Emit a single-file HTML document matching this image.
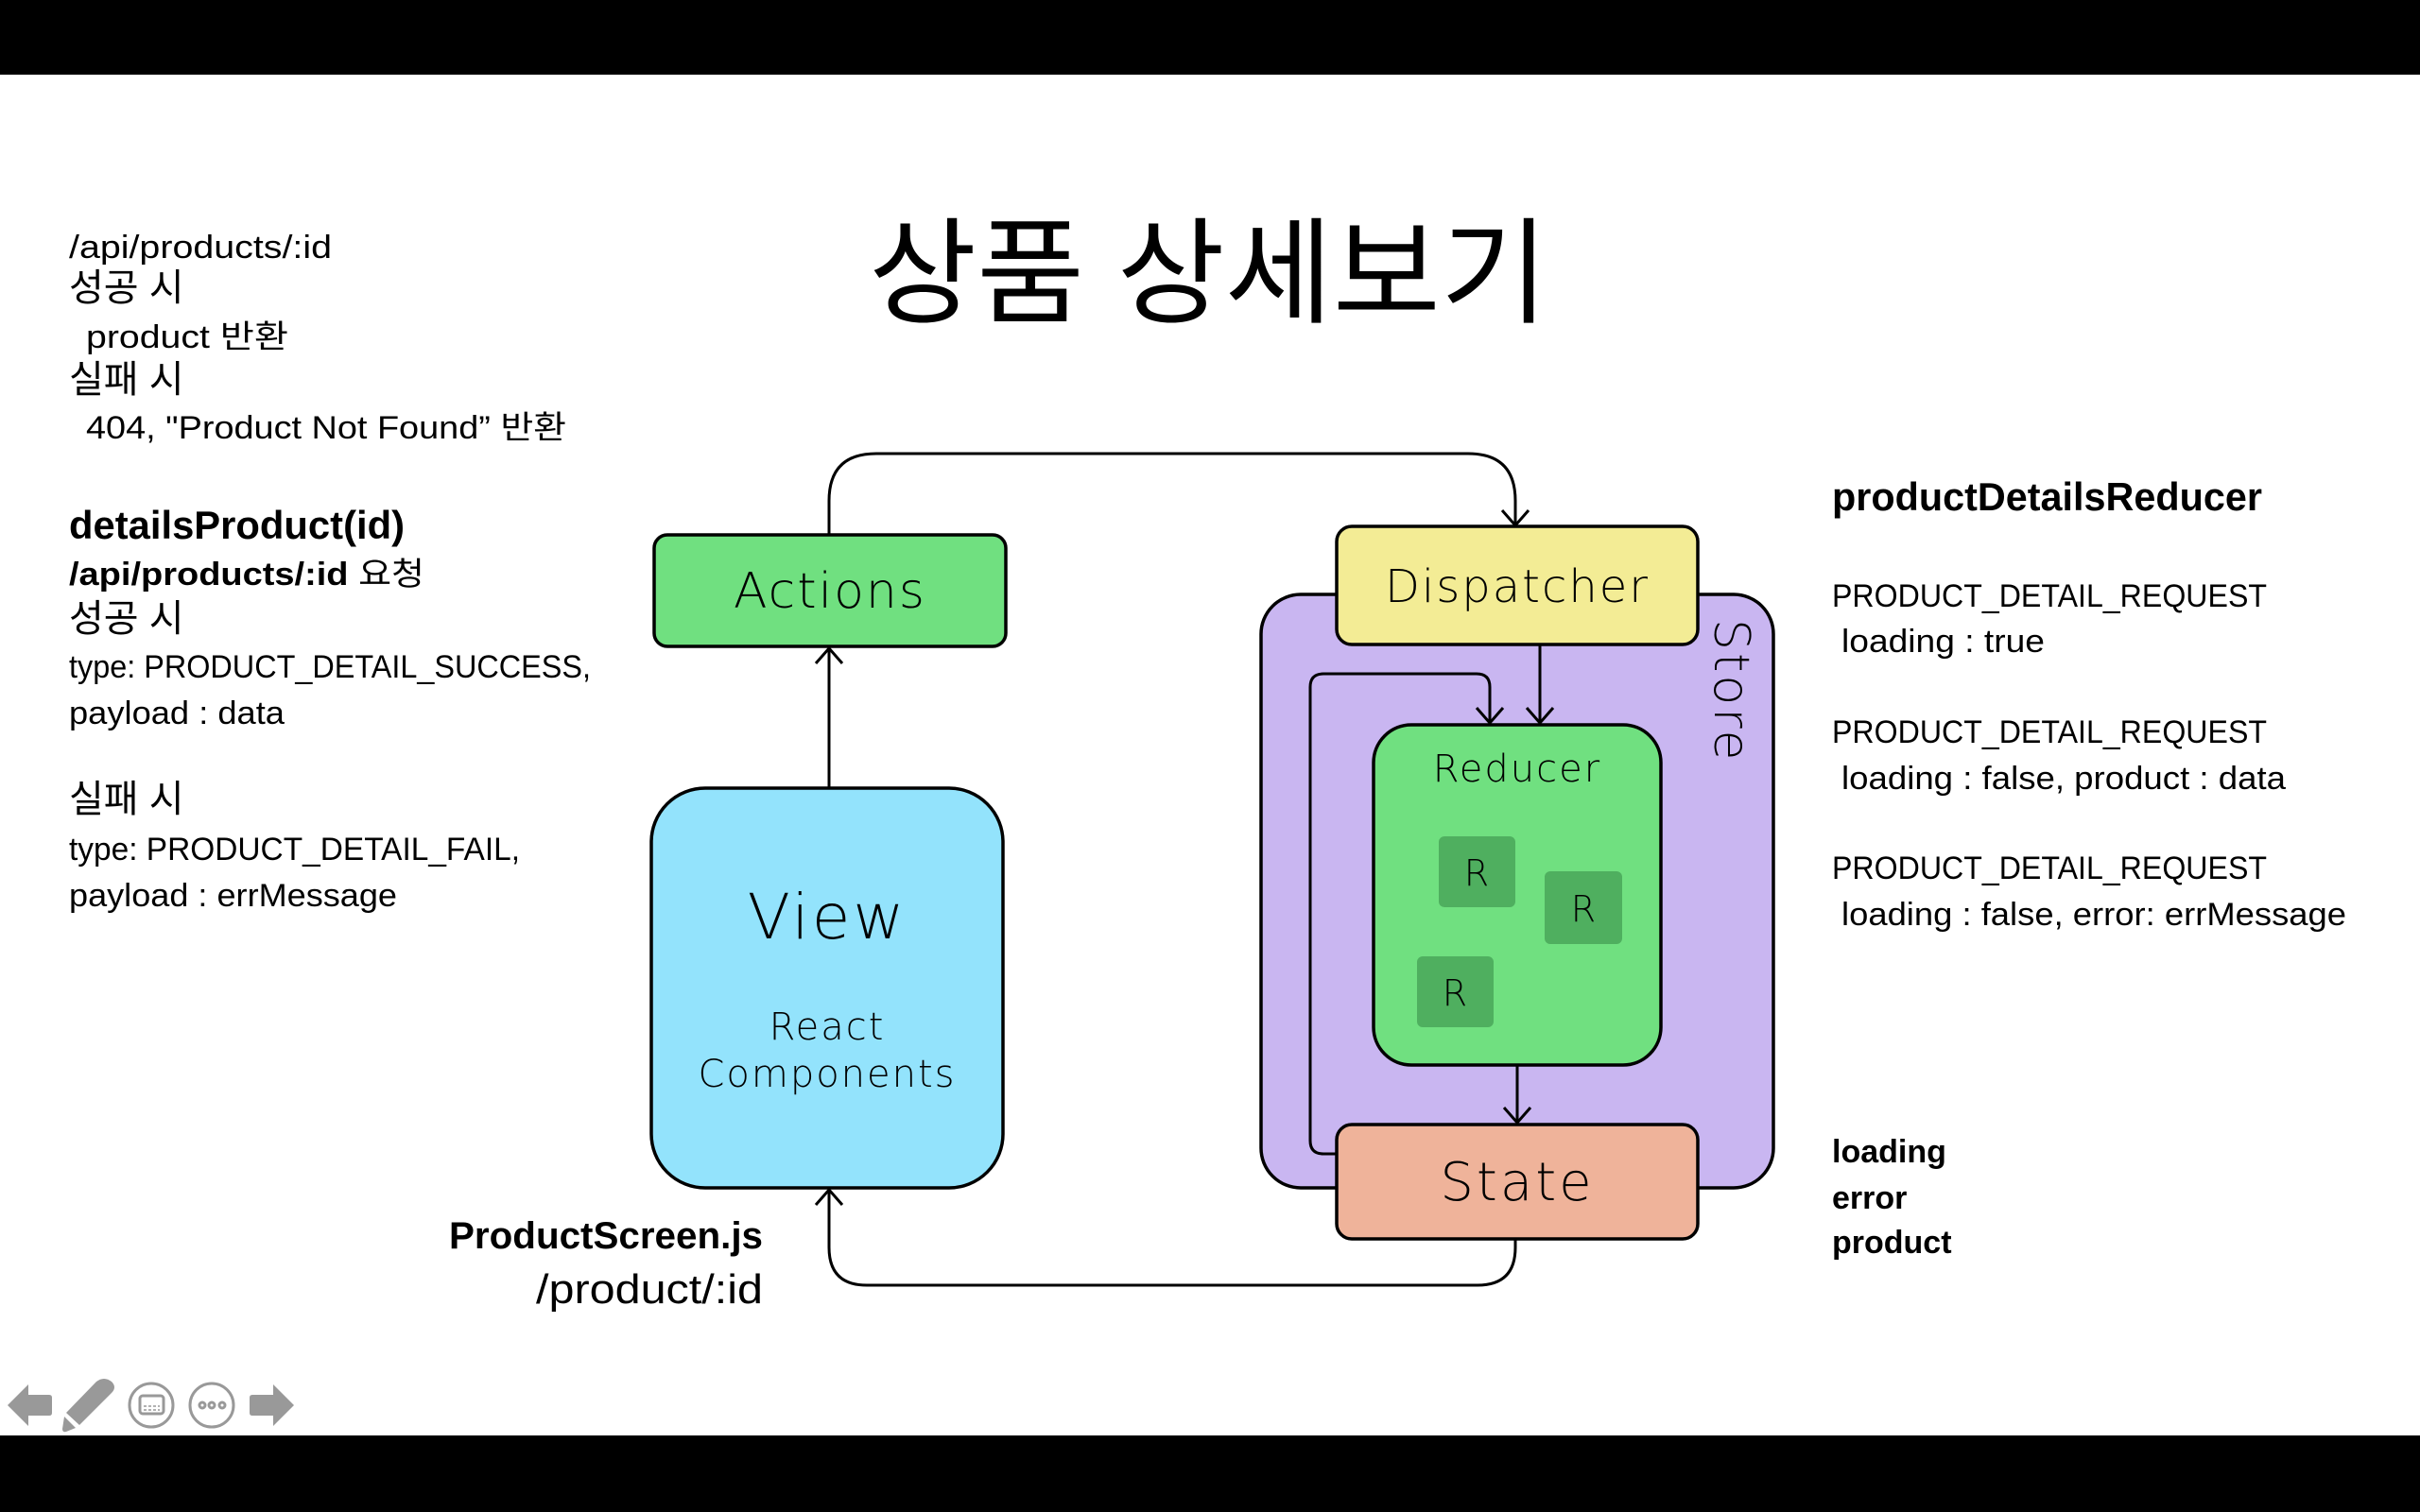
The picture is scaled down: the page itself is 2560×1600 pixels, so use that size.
<!DOCTYPE html>
<html><head><meta charset="utf-8"><style>
html,body{margin:0;padding:0;background:#fff;}
svg{display:block;}
.k{font-family:"Liberation Sans","Noto Sans CJK KR",sans-serif;fill:#000;}
.g{font-family:"DejaVu Sans","Liberation Sans",sans-serif;font-weight:200;fill:#000;}
</style></head><body>
<svg width="2560" height="1600" viewBox="0 0 2560 1600" xmlns="http://www.w3.org/2000/svg">
<rect x="0" y="0" width="2560" height="79" fill="#000"/>
<rect x="0" y="1519" width="2560" height="81" fill="#000"/>

<text class="k" x="919" y="332" font-size="122" textLength="719" lengthAdjust="spacingAndGlyphs">상품 상세보기</text>

<!-- left text -->
<g class="k" font-size="34">
<text x="73" y="273" textLength="278" lengthAdjust="spacingAndGlyphs">/api/products/:id</text>
<text x="73" y="318" font-size="40">성공 시</text>
<text x="91" y="368" textLength="214" lengthAdjust="spacingAndGlyphs">product 반환</text>
<text x="73" y="415" font-size="40">실패 시</text>
<text x="91" y="464" textLength="508" lengthAdjust="spacingAndGlyphs">404, "Product Not Found” 반환</text>
<text x="73" y="570" font-size="42" font-weight="bold" textLength="355" lengthAdjust="spacingAndGlyphs">detailsProduct(id)</text>
<text x="73" y="619" font-weight="bold" textLength="376" lengthAdjust="spacingAndGlyphs">/api/products/:id <tspan font-weight="normal">요청</tspan></text>
<text x="73" y="668" font-size="40">성공 시</text>
<text x="73" y="717" textLength="552" lengthAdjust="spacingAndGlyphs">type: PRODUCT_DETAIL_SUCCESS,</text>
<text x="73" y="766" textLength="228" lengthAdjust="spacingAndGlyphs">payload : data</text>
<text x="73" y="859" font-size="40">실패 시</text>
<text x="73" y="910" textLength="477" lengthAdjust="spacingAndGlyphs">type: PRODUCT_DETAIL_FAIL,</text>
<text x="73" y="959" textLength="347" lengthAdjust="spacingAndGlyphs">payload : errMessage</text>
</g>

<!-- right text -->
<g class="k" font-size="34">
<text x="1938" y="540" font-size="42" font-weight="bold" textLength="455" lengthAdjust="spacingAndGlyphs">productDetailsReducer</text>
<text x="1938" y="642" textLength="460" lengthAdjust="spacingAndGlyphs">PRODUCT_DETAIL_REQUEST</text>
<text x="1948" y="690" textLength="215" lengthAdjust="spacingAndGlyphs">loading : true</text>
<text x="1938" y="786" textLength="460" lengthAdjust="spacingAndGlyphs">PRODUCT_DETAIL_REQUEST</text>
<text x="1948" y="835" textLength="470" lengthAdjust="spacingAndGlyphs">loading : false, product : data</text>
<text x="1938" y="930" textLength="460" lengthAdjust="spacingAndGlyphs">PRODUCT_DETAIL_REQUEST</text>
<text x="1948" y="979" textLength="534" lengthAdjust="spacingAndGlyphs">loading : false, error: errMessage</text>
<text x="1938" y="1230" font-weight="bold">loading</text>
<text x="1938" y="1279" font-weight="bold">error</text>
<text x="1938" y="1326" font-weight="bold">product</text>
<text x="807" y="1321" font-size="40" font-weight="bold" text-anchor="end" textLength="332" lengthAdjust="spacingAndGlyphs">ProductScreen.js</text>
<text x="807" y="1379" font-size="44" text-anchor="end" textLength="240" lengthAdjust="spacingAndGlyphs">/product/:id</text>
</g>

<!-- connectors -->
<g fill="none" stroke="#000" stroke-width="3">
<path d="M877 566 V530 Q877 480 927 480 H1553 Q1603 480 1603 530 V555"/>
<path d="M1589 540 L1603 556 L1617 540"/>
<path d="M877 834 V686"/>
<path d="M863 702 L877 686 L891 702"/>
</g>

<!-- Store -->
<rect x="1334" y="629" width="542" height="628" rx="42" fill="#c9b6f1" stroke="#000" stroke-width="3.5"/>
<text class="g" x="0" y="0" font-size="52" letter-spacing="3" transform="translate(1814 655) rotate(90)">Store</text>

<g fill="none" stroke="#000" stroke-width="3">
<path d="M1414 1221 H1400 Q1386 1221 1386 1207 V727 Q1386 713 1400 713 H1562 Q1576 713 1576 727 V765"/>
<path d="M1562 749 L1576 765 L1590 749"/>
<path d="M1629 682 V765"/>
<path d="M1615 749 L1629 765 L1643 749"/>
<path d="M1605 1127 V1188"/>
<path d="M1591 1172 L1605 1188 L1619 1172"/>
<path d="M1603 1311 V1320 Q1603 1360 1563 1360 H917 Q877 1360 877 1320 V1259"/>
<path d="M863 1275 L877 1259 L891 1275"/>
</g>

<!-- Actions -->
<rect x="692" y="566" width="372" height="118" rx="14" fill="#70e080" stroke="#000" stroke-width="3.5"/>
<text class="g" x="878" y="643" font-size="52" text-anchor="middle" letter-spacing="2">Actions</text>

<!-- View -->
<rect x="689" y="834" width="372" height="423" rx="57" fill="#93e3fc" stroke="#000" stroke-width="3.5"/>
<text class="g" x="875" y="993" font-size="66" text-anchor="middle" letter-spacing="3">View</text>
<text class="g" x="875" y="1100" font-size="40" text-anchor="middle" letter-spacing="2">React</text>
<text class="g" x="875" y="1150" font-size="40" text-anchor="middle" letter-spacing="2">Components</text>

<!-- Dispatcher -->
<rect x="1414" y="557" width="382" height="125" rx="16" fill="#f3ec95" stroke="#000" stroke-width="3.5"/>
<text class="g" x="1605" y="637" font-size="48" text-anchor="middle" letter-spacing="2">Dispatcher</text>

<!-- Reducer -->
<rect x="1453" y="767" width="304" height="360" rx="40" fill="#70e080" stroke="#000" stroke-width="3.5"/>
<text class="g" x="1605" y="827" font-size="40" text-anchor="middle" letter-spacing="2">Reducer</text>
<rect x="1522" y="885" width="81" height="75" rx="6" fill="#4faf5f"/>
<text class="g" x="1562" y="937" font-size="38" text-anchor="middle">R</text>
<rect x="1634" y="922" width="82" height="77" rx="6" fill="#4faf5f"/>
<text class="g" x="1675" y="975" font-size="38" text-anchor="middle">R</text>
<rect x="1499" y="1012" width="81" height="75" rx="6" fill="#4faf5f"/>
<text class="g" x="1539" y="1064" font-size="38" text-anchor="middle">R</text>

<!-- State -->
<rect x="1414" y="1190" width="382" height="121" rx="16" fill="#efb39a" stroke="#000" stroke-width="3.5"/>
<text class="g" x="1605" y="1270" font-size="56" text-anchor="middle" letter-spacing="3">State</text>

<!-- bottom-left controls -->
<g fill="#999" stroke="none">
<path d="M8 1487 L30 1465 V1476 H52 Q55 1476 55 1479 V1495 Q55 1498 52 1498 H30 V1509 Z"/>
<path d="M102 1462 Q110 1456 118 1462 Q124 1468 118 1474 L84 1508 L70 1495 Z"/>
<path d="M68 1499 L80 1511 L70 1515 Q66 1516 66 1512 Z"/>
<path d="M311 1487 L289 1465 V1476 H267 Q264 1476 264 1479 V1495 Q264 1498 267 1498 H289 V1509 Z"/>
</g>
<g fill="none" stroke="#999" stroke-width="3">
<circle cx="160" cy="1487" r="23"/>
<rect x="148" y="1477" width="25" height="19" rx="3"/>
<path d="M152 1488 H169 M152 1492 H169" stroke-width="1.5" stroke-dasharray="3 2"/>
<circle cx="224" cy="1487" r="23"/>
<circle cx="214" cy="1487" r="3"/><circle cx="224" cy="1487" r="3"/><circle cx="235" cy="1487" r="3"/>
</g>
</svg>
</body></html>
